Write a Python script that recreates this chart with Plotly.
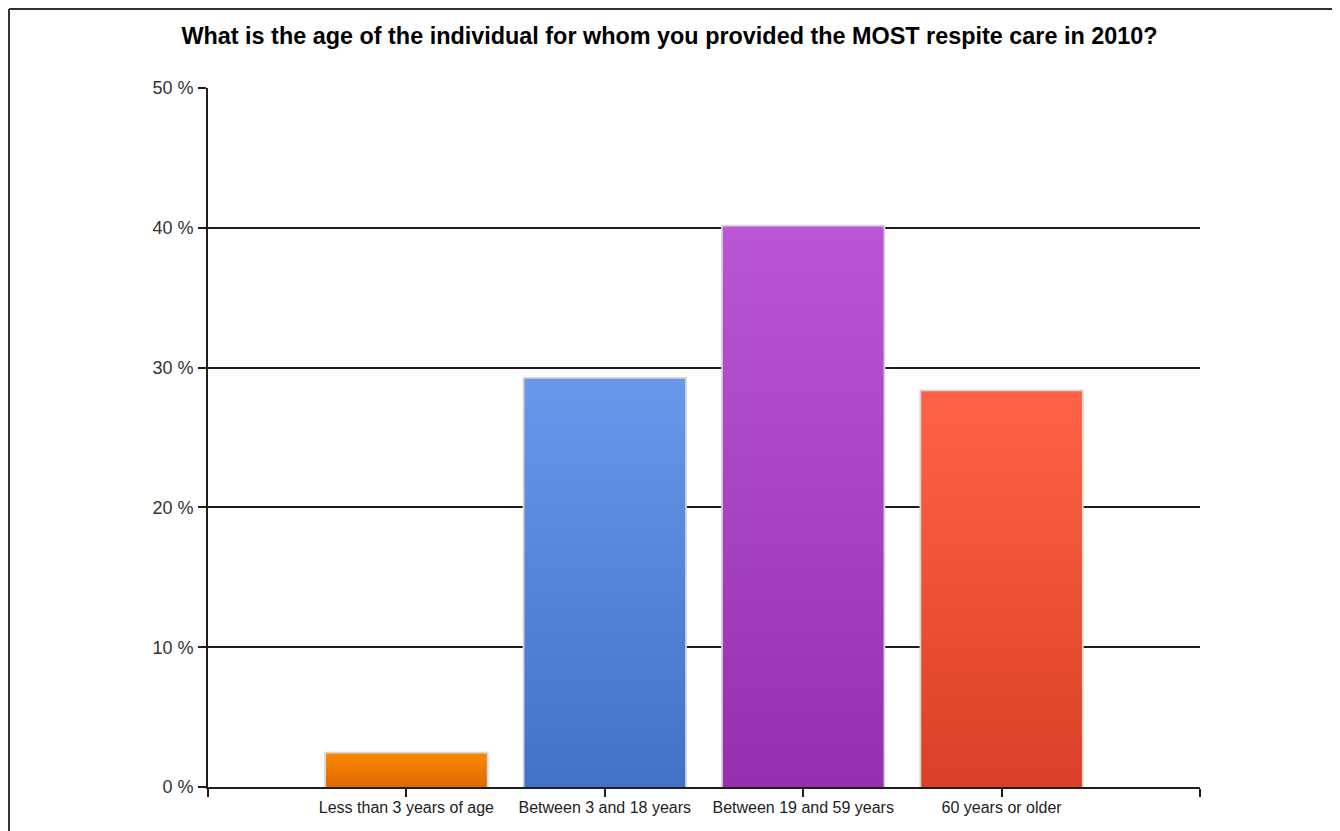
import plotly.graph_objects as go

categories = ["Less than 3 years of age", "Between 3 and 18 years", "Between 19 and 59 years", "60 years or older"]
values = [2.4, 29.2, 40.1, 28.3]
bar_top_colors = ["#F98A02", "#6798EA", "#BA56D5", "#FF6347"]
bar_bottom_colors = ["#DF6800", "#4271CA", "#952FAD", "#DA4025"]
bar_mid_colors = ["#EC7901", "#5484DA", "#A843C1", "#ED5136"]
y_tick_values = [0, 10, 20, 30, 40, 50]
y_tick_labels = ["0 %", "10 %", "20 %", "30 %", "40 %", "50 %"]

positions = list(range(len(categories)))
bar_width = 0.81

fig = go.Figure()
fig.add_trace(go.Bar(
    x=positions,
    y=values,
    width=bar_width,
    marker=dict(color=bar_mid_colors, line=dict(color="#D6D6D6", width=3.5)),
    hovertext=categories,
    hoverinfo="text+y",
    showlegend=False,
))

# vertical gradient fill on each bar, derived from the same data
for pos, val, top, bottom in zip(positions, values, bar_top_colors, bar_bottom_colors):
    half = bar_width / 2
    fig.add_trace(go.Scatter(
        x=[pos - half, pos - half, pos + half, pos + half, pos - half],
        y=[0, val, val, 0, 0],
        mode="lines",
        line=dict(width=0, color=bottom),
        fill="toself",
        fillgradient=dict(type="vertical", colorscale=[[0, bottom], [1, top]]),
        hoverinfo="skip",
        showlegend=False,
    ))

x_ticks = [-1] + positions + [len(categories)]
x_labels = [""] + categories + [""]

fig.update_layout(
    width=1340, height=831,
    paper_bgcolor="white", plot_bgcolor="white",
    margin=dict(l=200, r=148, t=80, b=52, pad=0),
    title=dict(
        text="What is the age of the individual for whom you provided the MOST respite care in 2010?",
        font=dict(family="Liberation Sans, Arial, sans-serif", size=23.4, color="#000000", weight="bold"),
        x=661.5 / 1340, xanchor="center", y=1 - 28 / 831, yanchor="middle",
    ),
    font=dict(family="Liberation Sans, Arial, sans-serif", size=16, color="#222222"),
    xaxis=dict(
        range=[-1, len(categories)],
        tickmode="array", tickvals=x_ticks, ticktext=x_labels,
        showgrid=False, zeroline=False,
        showline=True, linecolor="#1E1E1E", linewidth=1.8,
        ticks="outside", ticklen=8, tickcolor="#1E1E1E", tickwidth=1.8,
        tickfont=dict(size=16, color="#222222"),
        ticklabelstandoff=-3,
        fixedrange=True,
    ),
    yaxis=dict(
        range=[0, 50],
        tickmode="array", tickvals=y_tick_values, ticktext=y_tick_labels,
        showgrid=True, gridcolor="#1E1E1E", gridwidth=1.8,
        zeroline=False,
        showline=True, linecolor="#1E1E1E", linewidth=1.8,
        ticks="outside", ticklen=8, tickcolor="#1E1E1E", tickwidth=1.8,
        tickfont=dict(size=18, color="#333333"),
        ticklabelstandoff=1,
        fixedrange=True,
    ),
    shapes=[
        dict(type="line", xref="paper", yref="paper",
             x0=-199 / 992, x1=-199 / 992, y0=1 + 79 / 699, y1=-60 / 699,
             line=dict(color="#333333", width=2)),
        dict(type="line", xref="paper", yref="paper",
             x0=-199 / 992, x1=1 + 160 / 992, y0=1 + 79 / 699, y1=1 + 79 / 699,
             line=dict(color="#333333", width=2)),
    ],
)

fig.write_html("out.html")
